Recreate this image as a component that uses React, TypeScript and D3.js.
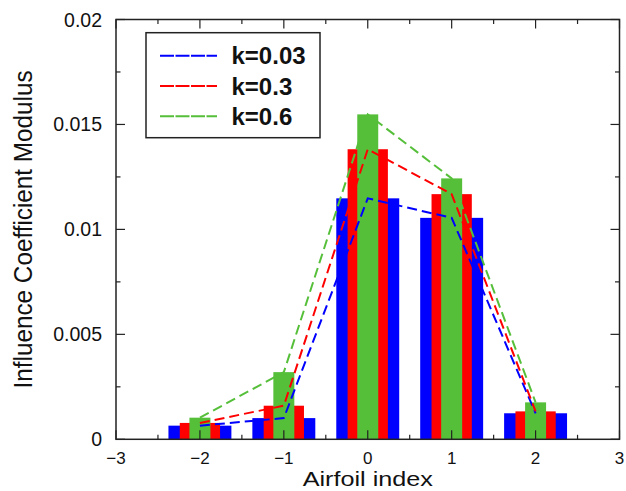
import React from "react";
import * as d3 from "d3";

// Airfoil indices and influence-coefficient moduli for three reduced frequencies
const airfoilIndex = [-2, -1, 0, 1, 2];
const kLow = [0.00065, 0.00101, 0.01148, 0.01055, 0.00124]; // k=0.03
const kMid = [0.00078, 0.0016, 0.01382, 0.01168, 0.00133]; // k=0.3
const kHigh = [0.00103, 0.0032, 0.01548, 0.01243, 0.00176]; // k=0.6

const seriesLabels = ["k=0.03", "k=0.3", "k=0.6"];
const xTickValues = [-3, -2, -1, 0, 1, 2, 3];
const yTickValues = [0, 0.005, 0.01, 0.015, 0.02];

const W = 626;
const H = 491;
const FONT = "'Liberation Sans', Arial, Helvetica, sans-serif";

const colors = ["#0000ff", "#ff0000", "#56bf3a"];
const barWidths = [0.75, 0.48, 0.25]; // in axis units
const seriesValues = [kLow, kMid, kHigh];

export default function App() {
  const x = d3.scaleLinear().domain([-3, 3]).range([116, 619.5]);
  const y = d3.scaleLinear().domain([0, 0.02]).range([439.3, 19.5]);
  const [x0, x1] = x.range();
  const [y0, y1] = y.range();

  const line = d3
    .line<number>()
    .x((_, i) => x(airfoilIndex[i]))
    .y((v) => y(v));

  const xMinor = d3.range(-2.5, 3, 1);
  const yMinor = d3.range(0.0025, 0.02, 0.005);
  const majorLen = 9;
  const minorLen = 4.5;
  const tickColor = "#222";

  const fmtY = (v: number) => (v === 0 ? "0" : String(+v.toFixed(3)));
  const fmtX = (v: number) => (v < 0 ? "\u2212" + Math.abs(v) : String(v));

  return (
    <svg
      width={W}
      height={H}
      style={{ position: "absolute", left: 0, top: 0, background: "#fff" }}
      fontFamily={FONT}
    >
      {/* bars: widest first so narrower ones sit on top */}
      {seriesValues.map((vals, s) => (
        <g key={"bars" + s} fill={colors[s]}>
          {vals.map((v, i) => {
            const cx = airfoilIndex[i];
            const left = x(cx - barWidths[s] / 2);
            const right = x(cx + barWidths[s] / 2);
            return (
              <rect
                key={i}
                x={left}
                y={y(v)}
                width={right - left}
                height={y(0) - y(v)}
              />
            );
          })}
        </g>
      ))}

      {/* dashed trend lines */}
      {seriesValues.map((vals, s) => (
        <path
          key={"line" + s}
          d={line(vals) || ""}
          fill="none"
          stroke={colors[s]}
          strokeWidth={2}
          strokeDasharray="10,5"
        />
      ))}

      {/* frame */}
      <rect
        x={x0}
        y={y1}
        width={x1 - x0}
        height={y0 - y1}
        fill="none"
        stroke={tickColor}
        strokeWidth={1.5}
      />

      {/* x ticks, bottom and top, pointing inward */}
      {xTickValues.map((v) => (
        <g key={"xt" + v} stroke={tickColor} strokeWidth={1.2}>
          <line x1={x(v)} x2={x(v)} y1={y0} y2={y0 - majorLen} />
          <line x1={x(v)} x2={x(v)} y1={y1} y2={y1 + majorLen} />
        </g>
      ))}
      {xMinor.map((v) => (
        <g key={"xm" + v} stroke={tickColor} strokeWidth={1.2}>
          <line x1={x(v)} x2={x(v)} y1={y0} y2={y0 - minorLen} />
          <line x1={x(v)} x2={x(v)} y1={y1} y2={y1 + minorLen} />
        </g>
      ))}

      {/* y ticks, left and right, pointing inward */}
      {yTickValues.map((v) => (
        <g key={"yt" + v} stroke={tickColor} strokeWidth={1.2}>
          <line x1={x0} x2={x0 + majorLen} y1={y(v)} y2={y(v)} />
          <line x1={x1} x2={x1 - majorLen} y1={y(v)} y2={y(v)} />
        </g>
      ))}
      {yMinor.map((v) => (
        <g key={"ym" + v} stroke={tickColor} strokeWidth={1.2}>
          <line x1={x0} x2={x0 + minorLen} y1={y(v)} y2={y(v)} />
          <line x1={x1} x2={x1 - minorLen} y1={y(v)} y2={y(v)} />
        </g>
      ))}

      {/* tick labels */}
      {xTickValues.map((v) => (
        <text
          key={"xl" + v}
          x={x(v)}
          y={463.5}
          textAnchor="middle"
          fontSize={17}
          fill="#111"
        >
          {fmtX(v)}
        </text>
      ))}
      {yTickValues.map((v) => (
        <text
          key={"yl" + v}
          x={102}
          y={y(v) + 7}
          textAnchor="end"
          fontSize={19.5}
          fill="#111"
        >
          {fmtY(v)}
        </text>
      ))}

      {/* axis titles */}
      <text
        transform={`translate(${(x0 + x1) / 2},486.2) scale(1.2,1)`}
        textAnchor="middle"
        fontSize={21}
        fill="#111"
      >
        Airfoil index
      </text>
      <text
        transform={`translate(31.5,${(y0 + y1) / 2}) scale(1.06,1) rotate(-90)`}
        textAnchor="middle"
        fontSize={24.3}
        fill="#111"
      >
        Influence Coefficient Modulus
      </text>

      {/* legend */}
      <rect
        x={146}
        y={32.7}
        width={174}
        height={105}
        fill="#fff"
        stroke="#222"
        strokeWidth={1.5}
      />
      {seriesLabels.map((lab, s) => {
        const ly = 55.7 + s * 30.3;
        return (
          <g key={"lg" + s}>
            <line
              x1={160}
              x2={217}
              y1={ly}
              y2={ly}
              stroke={colors[s]}
              strokeWidth={2}
              strokeDasharray="14,1.5"
            />
            <text
              x={231.5}
              y={ly + 8.6}
              fontSize={24}
              fontWeight="bold"
              fill="#111"
            >
              {lab}
            </text>
          </g>
        );
      })}
    </svg>
  );
}
